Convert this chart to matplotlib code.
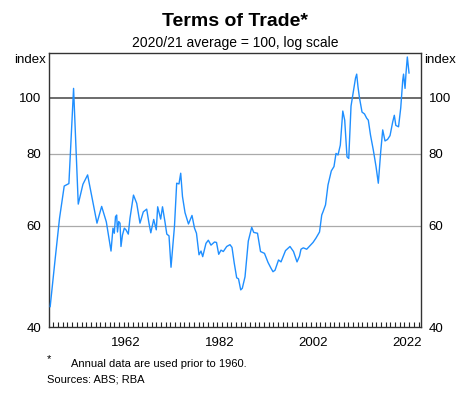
"""Terms of Trade chart (RBA style), 2020/21 average = 100, log scale."""

import matplotlib

matplotlib.use("Agg")
import matplotlib.pyplot as plt
import numpy as np
from matplotlib.ticker import FixedLocator, NullLocator

plt.rcParams["font.family"] = ["Liberation Sans", "DejaVu Sans"]

# --- data -------------------------------------------------------------------
# annual observations before 1960
annual_years = [1946.3, 1947.3, 1948.3, 1949.3, 1950.3, 1951.3, 1952.3,
                1953.3, 1954.3, 1955.3, 1956.3, 1957.3, 1958.3, 1959.3]
annual_index = [43.4, 51.9, 61.8, 70.3, 71.0, 103.9, 65.4,
                70.8, 73.5, 66.8, 60.6, 64.8, 60.9, 54.2]

# quarterly observations from 1960
quarterly_years = [
    1959.72, 1960.0, 1960.26, 1960.51, 1960.68, 1960.94, 1961.22, 1961.43,
    1961.75, 1962.14, 1962.5, 1962.99, 1963.35, 1964.1, 1964.79, 1965.49,
    1966.2, 1966.92, 1967.41, 1967.8, 1968.42, 1968.97, 1969.27, 1969.91,
    1970.3, 1970.83, 1971.22, 1971.69, 1972.12, 1972.86, 1973.33, 1973.82,
    1974.19, 1974.57, 1975.11, 1975.85, 1976.6, 1977.14, 1977.56, 1978.1,
    1978.53, 1978.89, 1979.59, 1980.09, 1980.66, 1981.41, 1981.84, 1982.31,
    1982.8, 1983.29, 1984.02, 1984.72, 1985.15, 1985.62, 1986.15, 1986.54,
    1987.01, 1987.35, 1987.93, 1988.63, 1989.36, 1989.79, 1990.6, 1991.24,
    1992.09, 1992.84, 1993.48, 1993.91, 1994.34, 1995.09, 1995.62, 1996.58,
    1997.54, 1998.29, 1999.04, 1999.57, 1999.89, 2000.38, 2001.11, 2001.65,
    2002.46, 2003.1, 2003.85, 2004.32, 2004.59, 2005.13, 2005.66, 2006.37,
    2006.94, 2007.37, 2007.8, 2008.29, 2008.82, 2009.23, 2009.72, 2010.09,
    2010.58, 2011.0, 2011.54, 2011.79, 2012.07, 2012.39, 2012.93, 2013.46,
    2013.93, 2014.27, 2014.74, 2015.34, 2015.92, 2016.41, 2016.92, 2017.35,
    2017.84, 2018.38, 2018.91, 2019.49, 2019.83, 2020.15, 2020.73, 2021.2,
    2021.63, 2021.8, 2022.12, 2022.33, 2022.61, 2022.97,
]
quarterly_index = [
    59.4, 58.2, 62.2, 62.6, 58.5, 61.0, 60.6, 55.2,
    57.8, 59.4, 59.0, 58.0, 61.8, 67.8, 65.6, 60.6,
    63.4, 64.1, 60.6, 58.3, 61.5, 59.0, 64.7, 61.6,
    64.7, 60.9, 58.0, 57.6, 50.8, 59.9, 71.1, 70.9,
    74.0, 67.4, 63.2, 60.4, 62.5, 59.4, 58.2, 53.4,
    54.2, 53.0, 55.9, 56.6, 55.5, 56.2, 56.1, 53.5,
    54.4, 54.1, 55.2, 55.6, 55.0, 51.7, 48.7, 48.5,
    46.4, 46.7, 48.9, 56.4, 59.6, 58.4, 58.2, 54.1,
    53.7, 51.8, 50.6, 49.9, 50.2, 52.3, 51.9, 54.3,
    55.2, 54.1, 51.9, 53.1, 54.6, 54.9, 54.6, 55.2,
    56.1, 57.1, 58.5, 62.6, 63.4, 65.2, 70.6, 74.7,
    76.0, 80.1, 79.6, 82.8, 94.9, 91.5, 79.0, 78.5,
    96.8, 101.6, 108.3, 110.0, 104.5, 100.0, 94.5, 93.8,
    92.2, 91.5, 86.2, 81.2, 76.0, 71.1, 80.6, 88.0,
    84.2, 84.7, 86.0, 90.9, 93.3, 89.6, 89.1, 96.1,
    107.4, 110.0, 103.9, 110.5, 117.8, 110.5,
]

y_ticks = [40, 60, 80, 100]
year_labels = ["1962", "1982", "2002", "2022"]

# --- figure -------------------------------------------------------------------
years = np.array(annual_years + quarterly_years)
index = np.array(annual_index + quarterly_index)

fig = plt.figure(figsize=(4.73, 3.99), dpi=100)
ax = fig.add_axes([49 / 473, 1 - 327 / 399, 372 / 473, 274 / 399])

ax.axhline(60, color="#aaaaaa", lw=0.9, zorder=1)
ax.axhline(80, color="#aaaaaa", lw=0.9, zorder=1)
ax.axhline(100, color="#444444", lw=1.1, zorder=1)
ax.plot(years, index, color="#1f8fff", lw=1.0, zorder=3)

ax.set_yscale("log")
ax.set_ylim(40, 119.7)
ax.set_xlim(1946.05, 2025.53)

ax.yaxis.set_major_locator(FixedLocator(y_ticks))
ax.yaxis.set_minor_locator(NullLocator())
ax.set_yticklabels([str(v) for v in y_ticks])
ax.tick_params(axis="y", which="both", left=False, right=False,
               labelleft=True, labelright=True, labelsize=9.5, pad=2)

# year labels sit between the yearly ticks
ax.set_xticks([int(s) + 0.5 for s in year_labels])
ax.set_xticklabels(year_labels)
ax.xaxis.set_minor_locator(FixedLocator(np.arange(1947, 2026)))
ax.tick_params(axis="x", which="major", length=0, labelsize=9.5, pad=7)
ax.tick_params(axis="x", which="minor", direction="in", length=3.5,
               width=0.8, color="#222222")

for side in ax.spines.values():
    side.set_color("#333333")
    side.set_linewidth(1.0)

ax.text(-0.008, 0.975, "index", transform=ax.transAxes, ha="right",
        va="center", fontsize=9.5)
ax.text(1.008, 0.975, "index", transform=ax.transAxes, ha="left",
        va="center", fontsize=9.5)

fig.text(235 / 473, 1 - 21 / 399, "Terms of Trade*", ha="center",
         va="center", fontsize=14, fontweight="bold")
fig.text(235 / 473, 1 - 43 / 399, "2020/21 average = 100, log scale",
         ha="center", va="center", fontsize=10)

fig.text(47 / 473, 1 - 359 / 399, "*", ha="left", va="center", fontsize=8)
fig.text(71 / 473, 1 - 364 / 399, "Annual data are used prior to 1960.",
         ha="left", va="center", fontsize=8)
fig.text(47 / 473, 1 - 380 / 399, "Sources: ABS; RBA", ha="left",
         va="center", fontsize=8)

fig.savefig("out.png", dpi=100)
